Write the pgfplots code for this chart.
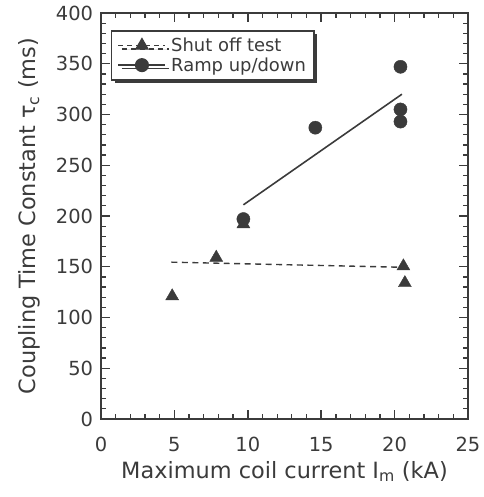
\documentclass[border=0pt]{standalone}
\usepackage{pgfplots}
\pgfplotsset{compat=1.18}
\usepackage{fontspec}
\setmainfont{DejaVu Sans}
\usetikzlibrary{shadows}
\definecolor{ink}{gray}{0.23}

\begin{document}
\begin{tikzpicture}
\begin{axis}[
    scale only axis,
    width=367bp,
    height=406bp,
    xmin=0, xmax=25,
    ymin=0, ymax=400,
    xtick={0,5,...,25},
    ytick={0,50,...,400},
    minor x tick num=4,
    minor y tick num=4,
    tick align=inside,
    major tick length=9bp,
    minor tick length=5bp,
    axis line style={line width=1.8pt, draw=ink},
    major tick style={draw=ink, line width=1.5pt},
    minor tick style={draw=ink, line width=1.3pt},
    tick label style={font=\fontsize{19.5}{22}\selectfont, text=ink},
    xticklabel style={yshift=-14.5bp},
    yticklabel style={xshift=-4.5bp},
    /pgf/number format/assume math mode=true,
    label style={font=\fontsize{22.5}{25}\selectfont, text=ink},
    xlabel={Maximum coil current I\textsubscript{m} (kA)},
    ylabel={Coupling Time Constant τ\textsubscript{c} (ms)},
    xlabel style={at={(axis description cs:0.5,-0.095)}, anchor=north},
    ylabel style={at={(axis description cs:-0.155,0.5)}, anchor=south},
    legend cell align=left,
    legend style={at={(0.027,0.958)}, anchor=north west,
        font=\fontsize{18}{20}\selectfont, text=ink,
        draw=ink, line width=1.6pt,
        drop shadow={shadow xshift=3.5pt, shadow yshift=-3.5pt, fill=ink, opacity=1},
        fill=white, inner xsep=6bp, inner ysep=5bp, row sep=0pt,
        nodes={inner xsep=2bp, inner ysep=2.2bp}},
    legend image code/.code={
        \draw[mark repeat=2, mark phase=2, #1] plot coordinates {(0bp,0bp) (23.5bp,0bp) (47bp,0bp)};
        \path (50bp,0bp);
    },
]
% legend entries
\addlegendimage{ink, dash pattern=on 5pt off 4pt, line width=1.3pt, mark=triangle*, mark size=7pt, mark options={solid, fill=ink}}
\addlegendentry{Shut off test}
\addlegendimage{ink, line width=1.5pt, mark=*, mark size=6.3pt, mark options={fill=ink}}
\addlegendentry{Ramp up/down}

% fit lines
\addplot[ink, line width=1.6pt, forget plot] coordinates {(9.7,211) (20.5,320)};
\addplot[ink, dash pattern=on 6pt off 4.5pt, line width=1.4pt, forget plot] coordinates {(4.8,154.5) (20.5,149.5)};

% shut off test
\addplot[only marks, mark=triangle*, mark size=7.5pt, ink, fill=ink, forget plot] coordinates {
    (4.85,121) (7.85,159) (9.7,192) (20.6,150.5) (20.7,134)
};
% ramp up/down
\addplot[only marks, mark=*, mark size=6.6pt, ink, fill=ink, forget plot] coordinates {
    (9.7,197) (14.6,287) (20.4,347) (20.4,305) (20.4,293)
};

\coordinate (ll) at (rel axis cs:0,0);
\coordinate (ur) at (rel axis cs:1,1);
\end{axis}
% page margins as in the reference
\path (ll) ++(-101bp,-78bp);
\path (ur) ++(13bp,13bp);
\end{tikzpicture}
\end{document}
